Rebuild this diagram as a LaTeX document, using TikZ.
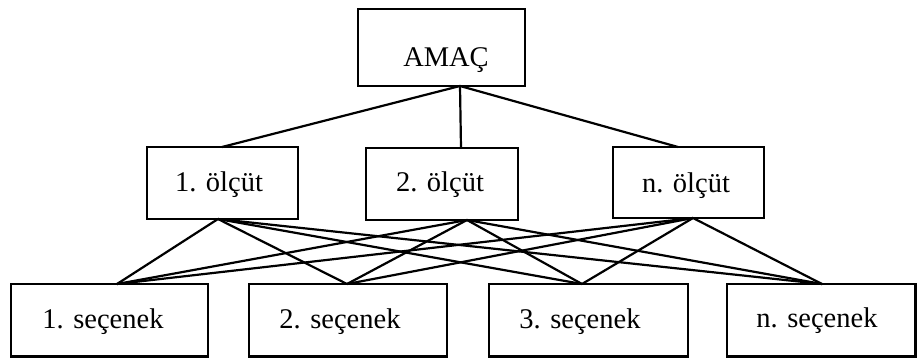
\documentclass[tikz,border=0pt]{standalone}
\usepackage{fontspec}
\setmainfont{Liberation Serif}
\begin{document}
\begin{tikzpicture}[x=1pt,y=-1pt,
  boxstyle/.style={draw=black, line width=2.6pt, fill=none},
  txt/.style={anchor=base, inner sep=0pt, font=\fontsize{28.5}{34}\selectfont},
  conn/.style={draw=black, line width=2.2pt, line cap=round}]
\useasboundingbox (0,0) rectangle (917,358);
% boxes
\path[boxstyle] (358,9) rectangle (525,86);
\path[boxstyle] (147,147) rectangle (298,219);
\path[boxstyle] (366,148) rectangle (518,220);
\path[boxstyle] (613,147) rectangle (764,218);
\path[boxstyle] (11,284) rectangle (208,356.5);
\path[boxstyle] (249,284) rectangle (447,356.5);
\path[boxstyle] (489,284) rectangle (688,356.5);
\path[boxstyle] (727,284) rectangle (915.5,356.5);
% texts
\node[txt] (amac) at (446,67) {AMAÇ};
\node[txt] (c1) at (219,191) {1. ölçüt};
\node[txt] (c2) at (440,191) {2. ölçüt};
\node[txt] (cn) at (686,192) {n. ölçüt};
\node[txt] (a1) at (103,328) {1. seçenek};
\node[txt] (a2) at (340,328) {2. seçenek};
\node[txt] (a3) at (580,328) {3. seçenek};
\node[txt] (an) at (817,327) {n. seçenek};
% connection points
\coordinate (amacB) at (460,86);
\coordinate (c1T) at (222,147);
\coordinate (c2T) at (461,148);
\coordinate (cnT) at (678,147);
\coordinate (c1B) at (218,219);
\coordinate (c2B) at (467,220);
\coordinate (cnB) at (693,218);
\coordinate (a1T) at (117,284);
\coordinate (a2T) at (347,284);
\coordinate (a3T) at (582,284);
\coordinate (anT) at (822,284);
% connectors
\draw[conn] (amacB) -- (c1T);
\draw[conn] (amacB) -- (c2T);
\draw[conn] (amacB) -- (cnT);
\foreach \c in {c1B,c2B,cnB}{
  \foreach \a in {a1T,a2T,a3T,anT}{
    \draw[conn] (\c) -- (\a);
  }
}
\end{tikzpicture}
\end{document}
